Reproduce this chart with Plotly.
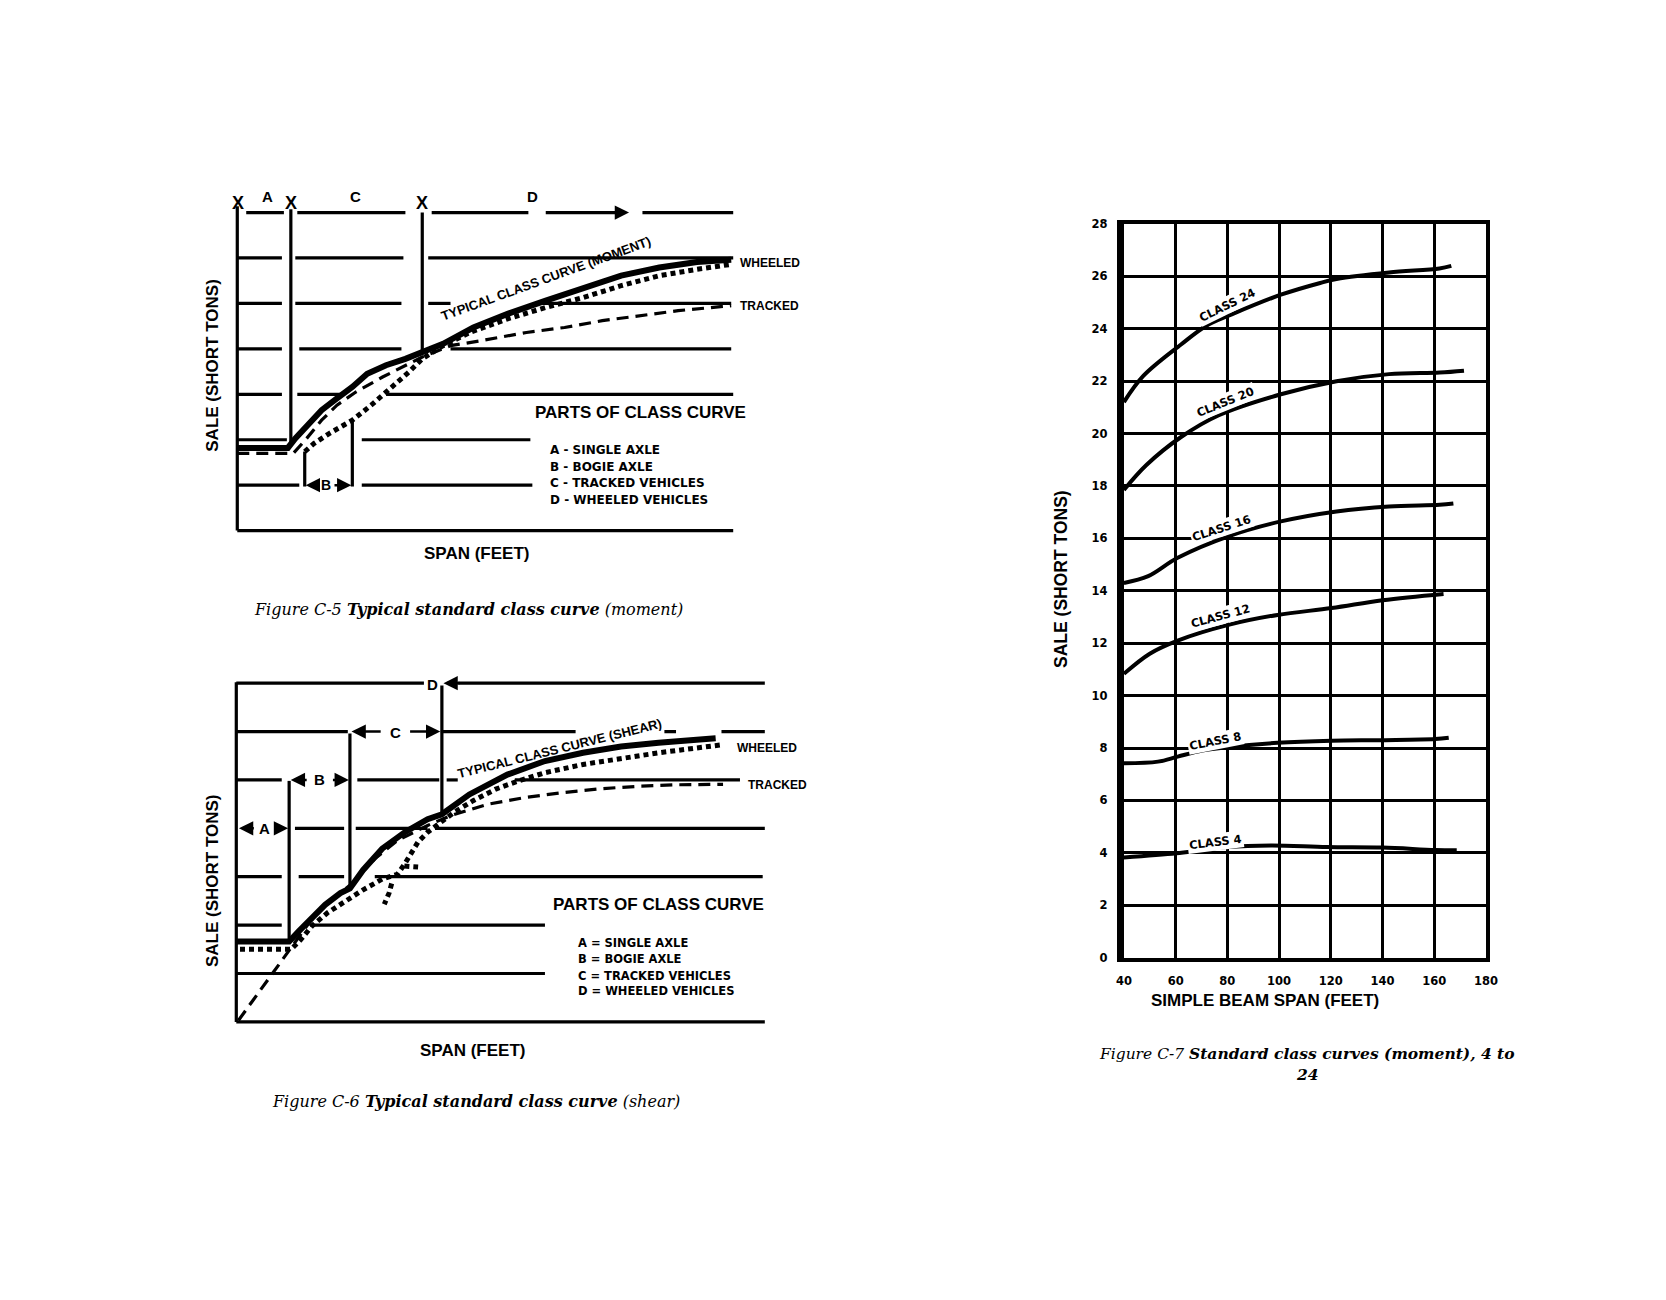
import plotly.graph_objects as go

W, H = 1666, 1300
OFF = 8                      # default page margin around the plot div
FW, FH = W - 2 * OFF, H - 2 * OFF
SANS = "Liberation Sans, Arial, sans-serif"
WIDE = "DejaVu Sans, Verdana, sans-serif"
SERIF = "DejaVu Serif, serif"

# ---------------- Figure C-5 (moment) schematic: span units 0-100, load levels 0-7
C5_SOLID_X = [0, 10.2, 11.7, 14.0, 17.0, 20.1, 23.2, 26.2, 30.0, 33.9, 37.3, 41.5, 47.6, 54.5, 62.2, 69.8, 77.4, 85.1, 92.7, 99.6]
C5_SOLID_Y = [1.82, 1.82, 2.03, 2.32, 2.65, 2.91, 3.16, 3.45, 3.64, 3.78, 3.93, 4.11, 4.47, 4.77, 5.06, 5.35, 5.61, 5.79, 5.91, 5.96]
C5_TRACKED_X = [0, 11.3, 14.0, 17.0, 20.1, 23.9, 29.3, 33.9, 37.3, 43.0, 49.2, 58.3, 66.0, 73.6, 81.3, 88.9, 99.6]
C5_TRACKED_Y = [1.70, 1.70, 2.03, 2.43, 2.76, 3.05, 3.38, 3.64, 3.82, 4.07, 4.18, 4.36, 4.47, 4.62, 4.73, 4.84, 4.95]
C5_WHEELED_X = [13.6, 15.5, 18.6, 23.2, 27.0, 30.8, 34.6, 37.3, 41.5, 46.9, 54.5, 62.2, 69.8, 77.4, 85.1, 92.7, 99.6]
C5_WHEELED_Y = [1.74, 1.92, 2.14, 2.43, 2.76, 3.12, 3.49, 3.78, 4.07, 4.36, 4.66, 4.91, 5.13, 5.39, 5.61, 5.75, 5.86]
# horizontal rules: (level, span start, span end)
C5_RULES = [(7, 1.8, 9.4), (7, 12.1, 33.9), (7, 39.2, 58.7), (7, 62.2, 77.0), (7, 81.7, 100),
            (6, 0, 9.0), (6, 11.7, 33.5), (6, 38.5, 100),
            (5, 0, 9.0), (5, 11.7, 33.1), (5, 38.5, 43.0), (5, 61.4, 99.6),
            (4, 0, 9.0), (4, 12.5, 33.1), (4, 43.0, 99.6),
            (3, 0, 9.0), (3, 12.1, 21.2), (3, 30.0, 100),
            (2, 0, 10.0), (2, 25.1, 59.1),
            (1, 0, 12.5), (1, 25.1, 59.5),
            (0, 0, 100)]
# vertical rules: (span, level start, level end)
C5_VERTS = [(0, 0, 7.14), (10.8, 1.88, 7.07), (37.3, 3.89, 7.0), (13.6, 0.97, 1.74), (23.2, 0.97, 2.43)]
C5_LEGEND = ["A - SINGLE AXLE", "B - BOGIE AXLE", "C - TRACKED VEHICLES", "D - WHEELED VEHICLES"]

# ---------------- Figure C-6 (shear) schematic
C6_SOLID_X = [0, 10.0, 11.8, 14.0, 16.8, 19.7, 21.5, 24.0, 27.6, 31.9, 36.2, 38.9, 44.1, 51.3, 58.4, 65.6, 72.8, 79.9, 90.7]
C6_SOLID_Y = [1.66, 1.66, 1.87, 2.11, 2.42, 2.66, 2.76, 3.14, 3.58, 3.92, 4.19, 4.29, 4.70, 5.11, 5.39, 5.56, 5.69, 5.77, 5.86]
C6_TRACKED_X = [0.4, 14.0, 17.6, 21.9, 26.2, 30.5, 36.2, 40.5, 47.7, 54.8, 62.0, 69.2, 76.3, 83.5, 92.1]
C6_TRACKED_Y = [0.03, 2.08, 2.49, 2.86, 3.37, 3.75, 4.06, 4.26, 4.50, 4.64, 4.74, 4.82, 4.87, 4.90, 4.91]
C6_WHEELED_X = [0.7, 10.4, 12.2, 14.3, 17.2, 20.4, 24.0, 27.6, 30.5, 31.9, 33.0, 34.4, 36.2, 38.4, 41.2, 44.8, 49.1, 53.4, 58.4, 65.6, 72.8, 79.9, 87.1, 92.1]
C6_WHEELED_Y = [1.50, 1.50, 1.70, 1.98, 2.25, 2.49, 2.73, 2.95, 3.05, 3.27, 3.48, 3.72, 3.92, 4.09, 4.33, 4.57, 4.81, 4.98, 5.15, 5.32, 5.45, 5.56, 5.66, 5.73]
C6_SPUR_X = [29.4, 28.9, 28.0, None, 31.8, 34.4]
C6_SPUR_Y = [2.86, 2.66, 2.43, None, 3.22, 3.20]
C6_RULES = [(7, 0, 35.5), (7, 42.0, 100),
            (6, 0, 21.1), (6, 38.7, 64.2), (6, 81.0, 83.2), (6, 91.8, 100),
            (5, 0, 8.6), (5, 22.9, 38.4), (5, 39.8, 41.9), (5, 52.7, 95.3),
            (4, 11.1, 20.4), (4, 22.6, 36.2), (4, 37.6, 100),
            (3, 0, 8.6), (3, 11.8, 20.4), (3, 26.2, 99.6),
            (2, 0, 8.6), (2, 14.0, 58.4),
            (1, 0, 58.4),
            (0, 0, 100)]
C6_VERTS = [(0, 0, 7.02), (10.0, 1.66, 4.98), (21.5, 2.76, 5.96), (38.9, 4.29, 6.95)]
C6_LEGEND = ["A = SINGLE AXLE", "B = BOGIE AXLE", "C = TRACKED VEHICLES", "D = WHEELED VEHICLES"]

# ---------------- Figure C-7 standard class curves (moment)
C7_X_TICKS = [40, 60, 80, 100, 120, 140, 160, 180]
C7_Y_TICKS = [0, 2, 4, 6, 8, 10, 12, 14, 16, 18, 20, 22, 24, 26, 28]
CLASS_24_X = [40, 47.5, 62.1, 71.6, 81.7, 100.7, 115.9, 122.2, 142.5, 162.0, 166.6]
CLASS_24_Y = [21.2, 22.2, 23.4, 24.1, 24.55, 25.3, 25.75, 25.9, 26.15, 26.3, 26.4]
CLASS_20_X = [40, 48.7, 62.1, 76.7, 100.7, 122.2, 142.5, 162.1, 171.5]
CLASS_20_Y = [17.85, 18.8, 19.87, 20.7, 21.5, 22.0, 22.27, 22.33, 22.4]
CLASS_16_X = [40, 49.4, 60.8, 80.4, 100.7, 122.2, 142.5, 162.1, 167.4]
CLASS_16_Y = [14.3, 14.56, 15.26, 16.08, 16.65, 17.03, 17.22, 17.28, 17.33]
CLASS_12_X = [40, 50.0, 60.8, 80.4, 99.4, 120.3, 140.0, 163.6]
CLASS_12_Y = [10.83, 11.6, 12.1, 12.7, 13.08, 13.34, 13.64, 13.88]
CLASS_8_X = [40, 53.2, 60.8, 70.3, 79.8, 99.4, 120.3, 140.0, 160.3, 165.6]
CLASS_8_Y = [7.42, 7.48, 7.67, 7.9, 8.03, 8.2, 8.28, 8.3, 8.34, 8.39]
CLASS_4_X = [40, 60.2, 70.3, 79.8, 96.9, 118.5, 140.0, 160.3, 168.7]
CLASS_4_Y = [3.82, 3.98, 4.11, 4.22, 4.28, 4.22, 4.2, 4.11, 4.1]
CLASS_LABELS = ["CLASS 24", "CLASS 20", "CLASS 16", "CLASS 12", "CLASS 8", "CLASS 4"]
CLASS_LABEL_X = [80.0, 79.2, 77.9, 77.3, 75.6, 75.6]
CLASS_LABEL_Y = [24.9, 21.2, 16.4, 13.05, 8.26, 4.41]


# ---------------- layout helpers (pixel placement of the three panels)
def span_range(d0, d1, v0, p0, v1, p1):
    s = (v1 - v0) / (p1 - p0)
    return [v0 + (d0 - p0) * s, v0 + (d1 - p0) * s]


def xdom(d0, d1):
    return [(d0 - OFF) / FW, (d1 - OFF) / FW]


def ydom(d0, d1):
    return [1 - (d1 - OFF) / FH, 1 - (d0 - OFF) / FH]


def px(xp, yp):
    return (xp - OFF) / FW, 1 - (yp - OFF) / FH


fig = go.Figure()


def rules_trace(rules, verts, xa, ya, width):
    xs, ys = [], []
    for lvl, a, b in rules:
        xs += [a, b, None]
        ys += [lvl, lvl, None]
    for x, a, b in verts:
        xs += [x, x, None]
        ys += [a, b, None]
    return go.Scatter(x=xs, y=ys, mode="lines", line=dict(color="black", width=width),
                      xaxis=xa, yaxis=ya, hoverinfo="skip")


def curve(x, y, xa, ya, width, dash="solid", shape="linear"):
    return go.Scatter(x=x, y=y, mode="lines", line=dict(color="black", width=width, dash=dash, shape=shape),
                      xaxis=xa, yaxis=ya, hoverinfo="skip", connectgaps=False)


DOTS = "5px,4px"
DASHES = "12px,7px"

# panel C-5
fig.add_trace(rules_trace(C5_RULES, C5_VERTS, "x", "y", 3.2))
fig.add_trace(curve(C5_TRACKED_X, C5_TRACKED_Y, "x", "y", 3.2, DASHES))
fig.add_trace(curve(C5_WHEELED_X, C5_WHEELED_Y, "x", "y", 5, DOTS))
fig.add_trace(curve(C5_SOLID_X, C5_SOLID_Y, "x", "y", 6))
# panel C-6
fig.add_trace(rules_trace(C6_RULES, C6_VERTS, "x2", "y2", 3.2))
fig.add_trace(curve(C6_TRACKED_X, C6_TRACKED_Y, "x2", "y2", 3.2, DASHES))
fig.add_trace(curve(C6_WHEELED_X, C6_WHEELED_Y, "x2", "y2", 5, DOTS))
fig.add_trace(curve(C6_SPUR_X, C6_SPUR_Y, "x2", "y2", 5, DOTS))
fig.add_trace(curve(C6_SOLID_X, C6_SOLID_Y, "x2", "y2", 6))
# panel C-7
for cx, cy in [(CLASS_24_X, CLASS_24_Y), (CLASS_20_X, CLASS_20_Y), (CLASS_16_X, CLASS_16_Y),
               (CLASS_12_X, CLASS_12_Y), (CLASS_8_X, CLASS_8_Y), (CLASS_4_X, CLASS_4_Y)]:
    fig.add_trace(curve(cx, cy, "x3", "y3", 4, shape="spline"))
fig.add_trace(go.Scatter(x=[None], y=[None], xaxis="x3", yaxis="y4", mode="lines", hoverinfo="skip"))

ann = []


def text(t, x, y, xref, yref, size, angle=0, xanchor="center", bg=None, bold=True, family=SANS):
    d = dict(text=t, x=x, y=y, xref=xref, yref=yref, showarrow=False, textangle=angle,
             xanchor=xanchor, yanchor="middle",
             font=dict(family=family, size=size, color="black", weight="bold" if bold else "normal"))
    if bg:
        d.update(bgcolor=bg, borderpad=1)
    ann.append(d)


def arrow(head, tail, y, xref, yref):
    ann.append(dict(text="", x=head, y=y, ax=tail, ay=y, xref=xref, yref=yref, axref=xref, ayref=yref,
                    showarrow=True, arrowhead=2, arrowsize=1.1, arrowwidth=2.6, arrowcolor="black"))


# --- C-5 annotations
for xv in [0.1, 10.8, 37.3]:
    text("X", xv, 7.2, "x", "y", 18)
for lab, xv in [("A", 6.0), ("C", 23.9), ("D", 59.5)]:
    text(lab, xv, 7.35, "x", "y", 15)
arrow(79.0, 75.0, 7, "x", "y")
text("B", 17.9, 1.0, "x", "y", 14)
arrow(13.8, 16.6, 1, "x", "y")
arrow(23.0, 19.3, 1, "x", "y")
text("TYPICAL CLASS CURVE (MOMENT)", 62.3, 5.55, "x", "y", 13, angle=-20)
text("WHEELED", 101.0, 5.88, "x", "y", 12, xanchor="left")
text("TRACKED", 101.0, 4.95, "x", "y", 12, xanchor="left")
text("PARTS OF CLASS CURVE", 81.4, 2.6, "x", "y", 17)
for i, t in enumerate(C5_LEGEND):
    text(t, 62.6, [1.77, 1.41, 1.04, 0.68][i], "x", "y", 12, xanchor="left", family=WIDE)

# --- C-6 annotations
text("A", 5.4, 4.0, "x2", "y2", 15)
arrow(0.5, 3.6, 4, "x2", "y2")
arrow(9.8, 7.2, 4, "x2", "y2")
text("B", 15.8, 5.0, "x2", "y2", 15)
arrow(10.3, 13.6, 5, "x2", "y2")
arrow(21.3, 18.0, 5, "x2", "y2")
text("C", 30.1, 5.98, "x2", "y2", 15)
arrow(21.8, 27.6, 6, "x2", "y2")
arrow(38.6, 32.6, 6, "x2", "y2")
text("D", 37.1, 6.98, "x2", "y2", 15)
arrow(39.2, 42.5, 7, "x2", "y2")
text("TYPICAL CLASS CURVE (SHEAR)", 61.2, 5.64, "x2", "y2", 13, angle=-14)
text("WHEELED", 94.3, 5.66, "x2", "y2", 12, xanchor="left")
text("TRACKED", 96.4, 4.9, "x2", "y2", 12, xanchor="left")
text("PARTS OF CLASS CURVE", 79.9, 2.42, "x2", "y2", 17)
for i, t in enumerate(C6_LEGEND):
    text(t, 64.2, [1.64, 1.30, 0.95, 0.63][i], "x2", "y2", 11.5, xanchor="left", family=WIDE)

# --- C-7 class labels
for i, t in enumerate(CLASS_LABELS):
    text(t, CLASS_LABEL_X[i], CLASS_LABEL_Y[i], "x3", "y3", 11.5,
         angle=[-26, -22, -18, -15, -11, -7][i], bg="white", family=WIDE)

# --- axis titles and captions (page pixel placement)
for (xp, yp) in [(207, 362), (207, 883)]:
    x, y = px(xp, yp)
    text("SALE (SHORT TONS)", x, y, "paper", "paper", 17, angle=-90)
x, y = px(1066, 578)
text("SALE (SHORT TONS)", x, y, "paper", "paper", 17.5, angle=-90)
for (xp, yp) in [(474, 552), (470, 1055)]:
    x, y = px(xp, yp)
    text("SPAN (FEET)", x, y, "paper", "paper", 17)
x, y = px(1272, 1004)
text("SIMPLE BEAM SPAN (FEET)", x, y, "paper", "paper", 17)

x, y = px(466, 609)
text("<i>Figure C-5 </i><b><i>Typical standard class curve</i></b><i> (moment)</i>", x, y,
     "paper", "paper", 16, bold=False, family=SERIF)
x, y = px(474, 1106)
text("<i>Figure C-6 </i><b><i>Typical standard class curve</i></b><i> (shear)</i>", x, y,
     "paper", "paper", 16, bold=False, family=SERIF)
x, y = px(1315, 1058)
text("<i>Figure C-7 </i><b><i>Standard class curves (moment), 4 to</i></b>", x, y,
     "paper", "paper", 15.5, bold=False, family=SERIF)
x, y = px(1315, 1079)
text("<b><i>24</i></b>", x, y, "paper", "paper", 15.5, bold=False, family=SERIF)

hidden = dict(visible=False, showgrid=False, zeroline=False, fixedrange=True)

# panel pixel anchors on the page
P1 = dict(xd=(185, 830), yd=(178, 575), x0=232.0, x100=734.0, y0=529.3, y7=207.7)
P2 = dict(xd=(185, 830), yd=(640, 1075), x0=231.0, x100=766.0, y0=1026.0, y7=683.5)
P3 = dict(xd=(1129.5, 1496.0), yd=(219.3, 961.0))

xr1 = span_range(P1["xd"][0], P1["xd"][1], 0, P1["x0"], 100, P1["x100"])
yr1 = span_range(P1["yd"][1], P1["yd"][0], 0, P1["y0"], 7, P1["y7"])
xr2 = span_range(P2["xd"][0], P2["xd"][1], 0, P2["x0"], 100, P2["x100"])
yr2 = span_range(P2["yd"][1], P2["yd"][0], 0, P2["y0"], 7, P2["y7"])

tickfont = dict(family=WIDE, size=11.5, color="black", weight="bold")

fig.update_layout(
    width=FW, height=FH, margin=dict(l=0, r=0, t=0, b=0),
    paper_bgcolor="white", plot_bgcolor="rgba(0,0,0,0)", showlegend=False,
    xaxis=dict(domain=xdom(*P1["xd"]), range=xr1, anchor="y", **hidden),
    yaxis=dict(domain=ydom(*P1["yd"]), range=yr1, anchor="x", **hidden),
    xaxis2=dict(domain=xdom(*P2["xd"]), range=xr2, anchor="y2", **hidden),
    yaxis2=dict(domain=ydom(*P2["yd"]), range=yr2, anchor="x2", **hidden),
    xaxis3=dict(domain=xdom(*P3["xd"]), range=[40, 180], anchor="y3",
                tickvals=C7_X_TICKS, ticktext=[str(v) for v in C7_X_TICKS],
                showgrid=True, gridcolor="black", gridwidth=3, zeroline=False,
                showline=True, linecolor="black", linewidth=4, mirror=True,
                ticks="", ticklabelstandoff=10, tickfont=tickfont, fixedrange=True),
    yaxis3=dict(domain=ydom(*P3["yd"]), range=[0, 28], anchor="x3",
                tickvals=C7_Y_TICKS, ticktext=[str(v) for v in C7_Y_TICKS],
                showgrid=True, gridcolor="black", gridwidth=3, zeroline=False,
                showline=True, linecolor="black", linewidth=7,
                ticks="", ticklabelstandoff=7, tickfont=tickfont, fixedrange=True),
    yaxis4=dict(domain=ydom(*P3["yd"]), range=[0, 28], anchor="x3", overlaying="y3", side="right",
                showgrid=False, zeroline=False, showline=True, linecolor="black", linewidth=4,
                showticklabels=False, ticks="", fixedrange=True),
    annotations=ann,
)

fig.write_html("out.html")
